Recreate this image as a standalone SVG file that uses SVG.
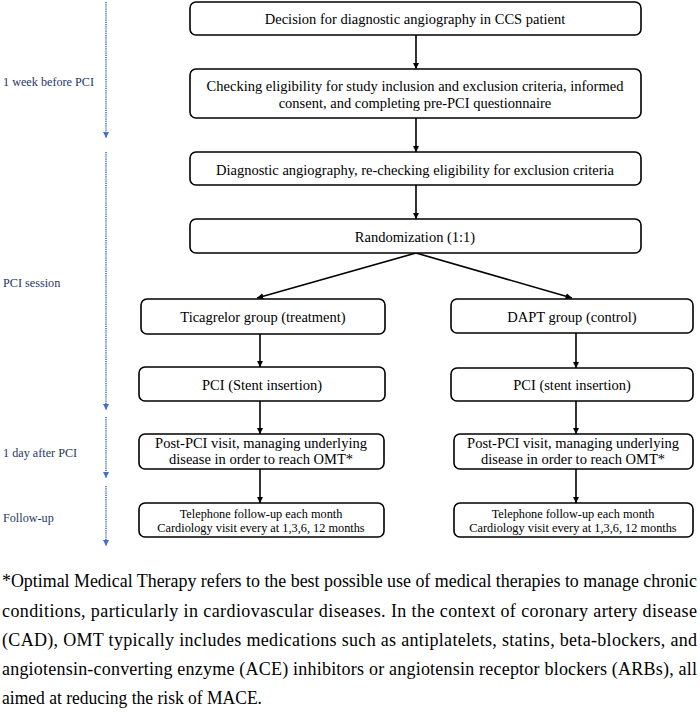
<svg xmlns="http://www.w3.org/2000/svg" width="700" height="715" viewBox="0 0 700 715">
<defs>
<marker id="ah" viewBox="0 0 10 10" refX="10" refY="5" markerWidth="4" markerHeight="4" orient="auto" markerUnits="strokeWidth"><path d="M0,0 L10,5 L0,10 z" fill="#000"/></marker>
<marker id="bh" viewBox="0 0 10 10" refX="10" refY="5" markerWidth="4" markerHeight="4" orient="auto" markerUnits="strokeWidth"><path d="M0,0 L10,5 L0,10 z" fill="#4472c4"/></marker>
</defs>
<rect width="700" height="715" fill="#fff"/>
<g id="timeline" stroke="#4472c4" stroke-width="1.6" stroke-dasharray="1.2 1" fill="none" marker-end="url(#bh)">
<line x1="106" y1="2" x2="106" y2="138"/>
<line x1="106" y1="152" x2="106" y2="410"/>
<line x1="106" y1="417" x2="106" y2="478"/>
<line x1="106" y1="486" x2="106" y2="546"/>
</g>
<g id="phases" font-family="Liberation Serif" font-size="12.2" fill="#1f3864">
<text x="3" y="86">1 week before PCI</text>
<text x="3" y="287">PCI session</text>
<text x="3" y="457">1 day after PCI</text>
<text x="3" y="522">Follow-up</text>
</g>
<g id="connectors" stroke="#000" stroke-width="1.6" fill="none" marker-end="url(#ah)">
<line x1="416" y1="35" x2="416" y2="69"/>
<line x1="416" y1="118" x2="416" y2="152"/>
<line x1="416" y1="185" x2="416" y2="219"/>
<line x1="416" y1="253" x2="257" y2="298"/>
<line x1="416" y1="253" x2="572" y2="298"/>
<line x1="260" y1="334" x2="260" y2="367"/>
<line x1="260" y1="401" x2="260" y2="434"/>
<line x1="260" y1="469" x2="260" y2="503"/>
<line x1="576" y1="333" x2="576" y2="368"/>
<line x1="576" y1="401" x2="576" y2="434"/>
<line x1="576" y1="469" x2="576" y2="503"/>
</g>
<g id="nodes" font-family="Liberation Serif" font-size="14.5" text-anchor="middle">
<g id="n1"><rect fill="#fff" stroke="#000" stroke-width="1.6" x="190" y="2" width="451" height="33" rx="6"/><text x="415" y="24">Decision for diagnostic angiography in CCS patient</text></g>
<g id="n2"><rect fill="#fff" stroke="#000" stroke-width="1.6" x="190" y="69" width="451" height="49" rx="6"/><text x="415" y="91">Checking eligibility for study inclusion and exclusion criteria, informed</text><text x="415" y="108">consent, and completing pre-PCI questionnaire</text></g>
<g id="n3"><rect fill="#fff" stroke="#000" stroke-width="1.6" x="190" y="152" width="451" height="33" rx="6"/><text x="415" y="175">Diagnostic angiography, re-checking eligibility for exclusion criteria</text></g>
<g id="n4"><rect fill="#fff" stroke="#000" stroke-width="1.6" x="190" y="219" width="451" height="34" rx="6"/><text x="415" y="242">Randomization (1:1)</text></g>
<g id="n5"><rect fill="#fff" stroke="#000" stroke-width="1.6" x="141" y="299" width="244" height="35" rx="6"/><text x="263" y="322">Ticagrelor group (treatment)</text></g>
<g id="n6"><rect fill="#fff" stroke="#000" stroke-width="1.6" x="451" y="299" width="242" height="34" rx="6"/><text x="572" y="322">DAPT group (control)</text></g>
<g id="n7"><rect fill="#fff" stroke="#000" stroke-width="1.6" x="139" y="367" width="246" height="34" rx="6"/><text x="262" y="390">PCI (Stent insertion)</text></g>
<g id="n8"><rect fill="#fff" stroke="#000" stroke-width="1.6" x="451" y="368" width="242" height="33" rx="6"/><text x="572" y="390">PCI (stent insertion)</text></g>
<g id="n9"><rect fill="#fff" stroke="#000" stroke-width="1.6" x="139" y="434" width="245" height="35" rx="6"/><text x="261" y="448">Post-PCI visit, managing underlying</text><text x="261" y="464">disease in order to reach OMT*</text></g>
<g id="n10"><rect fill="#fff" stroke="#000" stroke-width="1.6" x="454" y="434" width="239" height="35" rx="6"/><text x="573" y="448">Post-PCI visit, managing underlying</text><text x="573" y="464">disease in order to reach OMT*</text></g>
<g id="n11" font-size="12.3"><rect fill="#fff" stroke="#000" stroke-width="1.6" x="139" y="503" width="245" height="34" rx="6"/><text x="261" y="518">Telephone follow-up each month</text><text x="261" y="532">Cardiology visit every at 1,3,6, 12 months</text></g>
<g id="n12" font-size="12.3"><rect fill="#fff" stroke="#000" stroke-width="1.6" x="454" y="503" width="239" height="34" rx="6"/><text x="573" y="518">Telephone follow-up each month</text><text x="573" y="532">Cardiology visit every at 1,3,6, 12 months</text></g>
</g>
<g id="footnote" font-family="Liberation Serif" font-size="18">
<text x="2" y="587" textLength="695" lengthAdjust="spacingAndGlyphs">*Optimal Medical Therapy refers to the best possible use of medical therapies to manage chronic</text>
<text x="2" y="617" textLength="695" lengthAdjust="spacing">conditions, particularly in cardiovascular diseases. In the context of coronary artery disease</text>
<text x="2" y="646" textLength="695" lengthAdjust="spacing">(CAD), OMT typically includes medications such as antiplatelets, statins, beta-blockers, and</text>
<text x="2" y="675" textLength="695" lengthAdjust="spacing">angiotensin-converting enzyme (ACE) inhibitors or angiotensin receptor blockers (ARBs), all</text>
<text x="2" y="704" textLength="260" lengthAdjust="spacingAndGlyphs">aimed at reducing the risk of MACE.</text>
</g>
</svg>
